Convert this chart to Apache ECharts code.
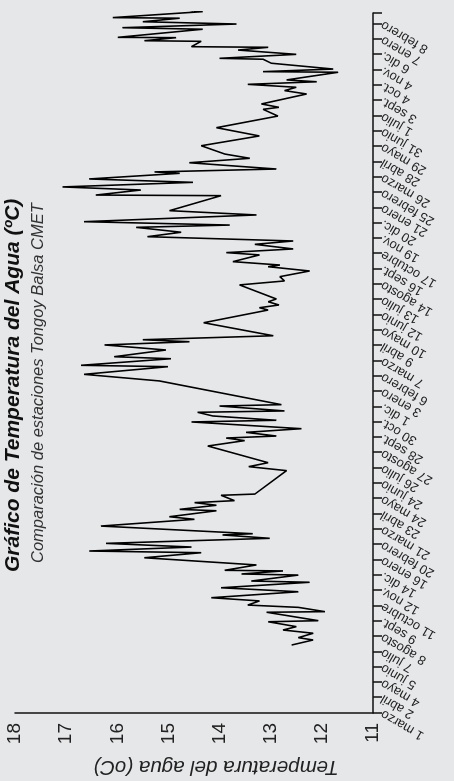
<!DOCTYPE html>
<html>
<head>
<meta charset="utf-8">
<script src="https://cdn.jsdelivr.net/npm/echarts@6/dist/echarts.min.js"></script>
<style>
html,body{margin:0;padding:0;width:454px;height:781px;overflow:hidden;background:#e6e7e9;}
#chart{position:absolute;left:0;top:0;width:781px;height:454px;transform-origin:0 0;transform:translate(0,781px) rotate(-90deg);}
</style>
</head>
<body>
<div id="chart"></div>
<script>
const chartTitle = 'Gráfico de Temperatura del Agua (ºC)';
const chartSubtitle = 'Comparación de estaciones Tongoy Balsa CMET';
const yAxisName = 'Temperatura del agua (oC)';
const tickLabels = ['1 marzo','2 abril','4 mayo','5 junio','7 julio','8 agosto','9 sept.','11 octubre','12 nov.','14 dic.',
  '16 enero','20 febrero','21 marzo','23 abril','24 mayo','24 junio','26 julio','27 agosto','28 sept.','30 oct.',
  '1 dic.','3 enero','6 febrero','7 marzo','9 abril','10 mayo','12 junio','13 julio','14 agosto','16 sept.',
  '17 octubre','19 nov.','20 dic.','21 enero','25 febrero','26 marzo','28 abril','29 mayo','31 junio','1 julio',
  '3 sept.','4 oct.','4 nov.','6 dic.','7 enero','8 febrero'];
// sample time, in tick-label units
const samplePos = [4.44,4.77,4.92,5.21,5.42,5.64,5.96,6.03,6.58,6.62,6.90,7.05,7.32,7.53,7.92,8.18,8.54,8.62,9.01,9.08,
  9.28,9.32,9.67,10.14,10.47,10.58,10.84,11.08,11.41,11.63,11.71,12.21,12.65,12.82,13.21,13.30,13.57,13.74,13.87,14.22,
  14.30,15.83,16.09,16.35,17.44,17.79,17.96,18.09,18.33,18.57,19.01,19.12,19.40,19.64,19.73,20.05,20.14,21.69,22.12,22.62,
  22.71,23.14,23.27,23.71,24.04,24.25,24.38,24.64,25.49,26.32,26.47,26.65,26.86,27.04,27.96,28.22,28.50,28.87,29.15,29.26,
  29.48,29.92,30.07,30.31,30.61,30.83,31.11,31.40,31.72,31.87,32.09,32.53,32.81,33.79,33.83,34.16,34.36,34.66,34.88,35.25,
  35.34,35.53,35.94,36.23,36.51,37.05,37.69,38.23,38.99,39.43,39.56,39.78,40.43,40.65,40.87,41.06,41.23,41.35,41.85,41.89,
  42.06,42.44,42.70,42.76,43.02,43.30,43.48,43.52,43.87,43.91,44.11,44.13,44.66,44.76,45.00,45.15,45.38,45.42,45.81,46.13];
const waterTemp = [12.59,12.17,12.46,12.17,12.76,12.50,13.05,12.07,13.08,11.94,12.46,13.45,13.22,14.16,12.46,13.97,12.24,13.38,12.46,13.57,
  12.76,13.90,13.28,15.47,14.36,16.55,14.55,16.22,13.02,13.94,13.35,16.32,14.49,14.98,14.06,14.78,14.06,14.49,13.71,13.97,
  13.31,12.69,13.43,13.05,14.23,13.51,13.87,12.89,13.48,12.40,14.55,12.89,14.13,14.43,12.73,14.00,12.79,15.18,16.65,15.01,
  16.71,14.95,16.06,15.05,16.25,14.59,15.50,12.95,14.31,13.05,13.22,12.84,13.05,12.89,13.61,12.73,12.82,12.24,13.05,12.82,
  13.74,13.22,13.87,12.56,13.31,12.56,15.41,14.75,15.63,13.80,16.65,13.28,14.98,13.97,16.42,15.54,17.07,14.52,16.55,14.78,
  15.27,12.89,14.59,13.41,13.90,14.36,13.22,14.06,12.86,13.15,12.84,13.18,12.30,12.73,12.50,13.45,12.10,12.69,11.68,13.15,
  11.78,12.99,13.15,14.00,12.50,13.64,13.05,14.55,14.36,15.47,14.85,15.99,14.33,15.90,13.67,15.50,14.78,16.09,14.33,15.24];
const yTicks = [11, 18];

const font = '"Liberation Sans", Arial, sans-serif';
const chart = echarts.init(document.getElementById('chart'), null, {renderer: 'canvas', width: 781, height: 454});
chart.setOption({
  animation: false,
  backgroundColor: '#e6e7e9',
  title: [
    {text: chartTitle, left: 209, top: 3, padding: 0,
     textStyle: {fontFamily: font, fontSize: 21, fontWeight: 'bold', fontStyle: 'italic', color: '#111'}},
    {text: chartSubtitle, left: 218, top: 30, padding: 0,
     textStyle: {fontFamily: font, fontSize: 16.5, fontWeight: 'normal', fontStyle: 'italic', color: '#333'}}
  ],
  grid: {left: 68, right: 13, top: 15, bottom: 81, containLabel: false, outerBoundsMode: 'none'},
  xAxis: {
    type: 'value', min: 0, max: 45.72, interval: 1,
    axisLine: {show: true, lineStyle: {color: '#111', width: 1.5}},
    axisTick: {show: true, length: 9, lineStyle: {color: '#111', width: 1.5}},
    splitLine: {show: false},
    axisLabel: {rotate: 60, margin: 9, fontFamily: font, fontSize: 13, color: '#222',
      showMinLabel: true, showMaxLabel: true, hideOverlap: false,
      formatter: v => (Math.abs(v - Math.round(v)) < 1e-6 && tickLabels[Math.round(v)] !== undefined) ? tickLabels[Math.round(v)] : ''}
  },
  yAxis: {
    type: 'value', min: yTicks[0], max: yTicks[1], interval: 1,
    name: yAxisName, nameLocation: 'middle', nameGap: 44, nameRotate: 90,
    nameTextStyle: {fontFamily: font, fontSize: 20.5, fontStyle: 'italic', color: '#222', padding: [0, 44, 0, 0]},
    axisLine: {show: true, lineStyle: {color: '#111', width: 1.5}},
    axisTick: {show: false},
    splitLine: {show: false},
    axisLabel: {margin: 10, fontFamily: font, fontSize: 19, color: '#222', showMinLabel: true, showMaxLabel: true, hideOverlap: false}
  },
  series: [{
    type: 'line',
    data: samplePos.map((p, i) => [p, waterTemp[i]]),
    showSymbol: false, clip: false,
    lineStyle: {color: '#000', width: 1.6}
  }]
});
</script>
</body>
</html>
